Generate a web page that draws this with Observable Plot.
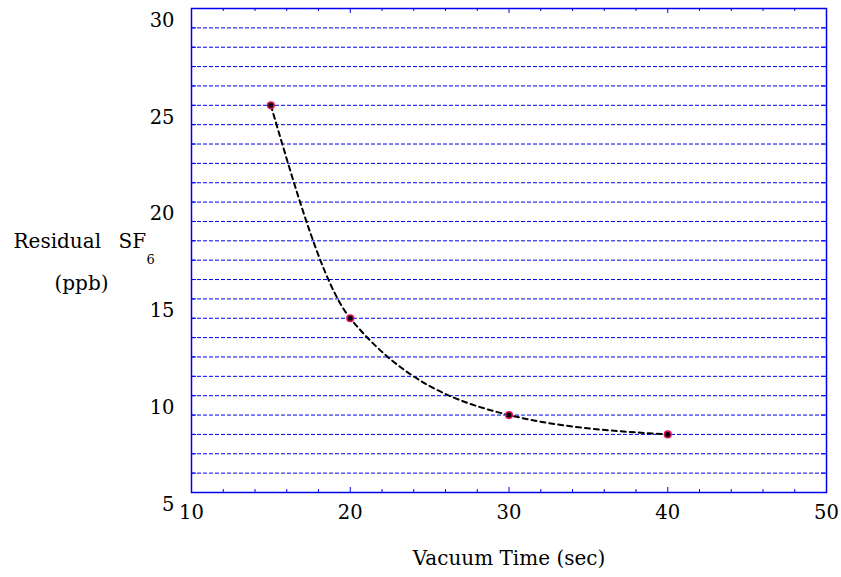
<!DOCTYPE html>
<html>
<head>
<meta charset="utf-8">
<script src="https://cdn.jsdelivr.net/npm/d3@7"></script>
<script src="https://cdn.jsdelivr.net/npm/@observablehq/plot@0.6"></script>
<style>
  html, body { margin: 0; padding: 0; background: #fff; }
  #chart svg { display: block; }
</style>
</head>
<body>
<div id="chart"></div>
<script>
// Data
const vacuumTime = [15, 20, 30, 40];
const residualSF6 = [25, 14, 9, 8];

// Tick values
const xTickLabels = [10, 20, 30, 40, 50];
const xMinorTicks = [12, 14, 16, 18, 22, 24, 26, 28, 32, 34, 36, 38, 42, 44, 46, 48];
const yTickLabels = [5, 10, 15, 20, 25, 30];
const yGridLines = [6, 7, 8, 9, 10, 11, 12, 13, 14, 15, 16, 17, 18, 19, 20, 21, 22, 23, 24, 25, 26, 27, 28, 29];

const data = vacuumTime.map((t, i) => ({t, v: residualSF6[i]}));

const W = 841, H = 577;
const mT = 8, mB = 85, mL = 191, mR = 15;
const innerH = H - mT - mB, innerW = W - mL - mR;
const blue = "#0000ee";
const font = "DejaVu Serif, serif";

const chart = Plot.plot({
  width: W,
  height: H,
  marginTop: mT,
  marginBottom: mB,
  marginLeft: mL,
  marginRight: mR,
  style: {fontFamily: font, background: "#fff", color: "#000"},
  x: {domain: [10, 50]},
  y: {domain: [5, 30]},
  marks: [
    // dashed horizontal grid
    Plot.ruleY(yGridLines, {y: d => d, stroke: blue, strokeWidth: 1, strokeDasharray: "4,2"}),
    // inward y ticks (left and right)
    Plot.tickY(yGridLines, {y: d => d, stroke: blue, strokeWidth: 1, insetRight: innerW - 5}),
    Plot.tickY(yGridLines, {y: d => d, stroke: blue, strokeWidth: 1, insetLeft: innerW - 5}),
    // inward x ticks bottom & top (minor)
    Plot.tickX(xMinorTicks, {x: d => d, stroke: blue, strokeWidth: 1, insetTop: innerH - 3}),
    Plot.tickX(xMinorTicks, {x: d => d, stroke: blue, strokeWidth: 1, insetBottom: innerH - 3}),
    // major
    Plot.tickX(xTickLabels, {x: d => d, stroke: blue, strokeWidth: 1, insetTop: innerH - 5}),
    Plot.tickX(xTickLabels, {x: d => d, stroke: blue, strokeWidth: 1, insetBottom: innerH - 5}),
    Plot.frame({stroke: blue, strokeWidth: 1.5}),
    // tick labels
    Plot.axisX(xTickLabels, {tickSize: 0, tickPadding: 13, fontSize: 19.5, fill: "#000", label: null}),
    Plot.axisY(yTickLabels, {tickSize: 0, tickPadding: 17, dy: 12, fontSize: 19.5, fill: "#000", label: null}),
    // fitted dashed curve
    Plot.line(data, {x: "t", y: "v", curve: "monotone-x", stroke: "#000", strokeWidth: 2, strokeDasharray: "5,4"}),
    // markers
    Plot.dot(data, {x: "t", y: "v", r: 3.3, fill: "#000", stroke: "#e0115f", strokeWidth: 1.6}),
    // axis titles
    Plot.text(["Vacuum Time (sec)"], {frameAnchor: "bottom", dy: 72, fontSize: 20, fill: "#000"}),
    Plot.text(["Residual"], {frameAnchor: "left", textAnchor: "start", dx: -178, dy: -9, fontSize: 20, fill: "#000"}),
    Plot.text(["SF"], {frameAnchor: "left", textAnchor: "start", dx: -73, dy: -9, fontSize: 20, fill: "#000"}),
    Plot.text(["6"], {frameAnchor: "left", textAnchor: "start", dx: -45, dy: 9, fontSize: 13, fill: "#000"}),
    Plot.text(["(ppb)"], {frameAnchor: "left", textAnchor: "middle", dx: -110, dy: 33, fontSize: 20, fill: "#000"})
  ]
});
document.getElementById("chart").appendChild(chart);
</script>
</body>
</html>
